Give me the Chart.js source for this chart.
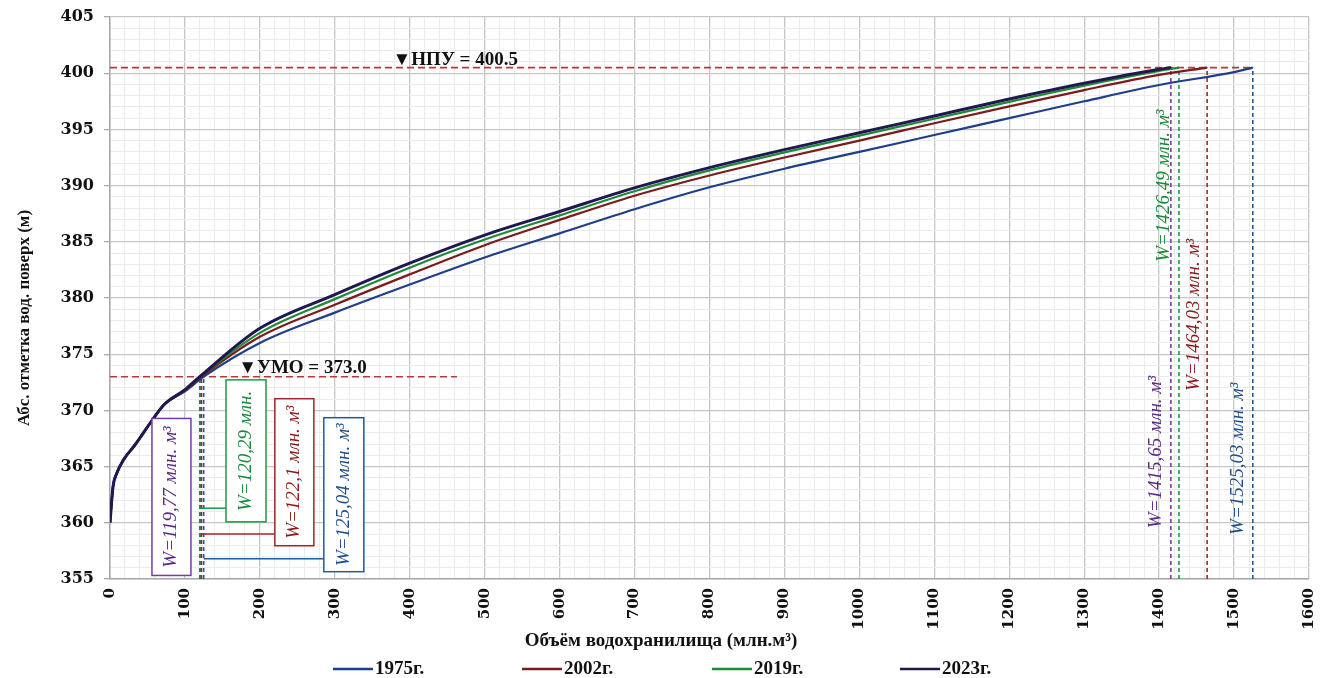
<!DOCTYPE html>
<html>
<head>
<meta charset="utf-8">
<script src="https://cdn.jsdelivr.net/npm/chart.js@4/dist/chart.umd.min.js"></script>
<style>
  html, body { margin: 0; padding: 0; background: #fff; }
  #wrap { width: 1322px; height: 678px; }
</style>
</head>
<body>
<div id="wrap"><canvas id="chart"></canvas></div>
<script>
// Кривые объёмов водохранилища (объём, млн.м3 -> отметка, м)
const years = ['1975г.', '2002г.', '2019г.', '2023г.'];

const vol1975 = [0, 4, 9, 18, 33, 55, 72, 100, 125.04, 200, 300, 400, 500, 600, 700, 800, 900, 1000, 1100, 1200, 1300, 1400, 1500, 1525.03];
const lvl1975 = [360, 363.2, 364.4, 365.6, 366.9, 369.0, 370.5, 371.7, 373.0, 376.0, 378.7, 381.2, 383.6, 385.75, 387.9, 389.85, 391.5, 393.0, 394.5, 396.0, 397.5, 398.95, 400.1, 400.5];

const vol2002 = [0, 4, 9, 18, 33, 55, 72, 100, 122.1, 200, 300, 400, 500, 600, 700, 800, 900, 1000, 1100, 1200, 1300, 1400, 1464.03];
const lvl2002 = [360, 363.2, 364.4, 365.6, 366.9, 369.0, 370.5, 371.75, 373.0, 376.55, 379.4, 382.1, 384.7, 386.95, 389.1, 390.9, 392.5, 394.0, 395.55, 397.05, 398.5, 399.85, 400.5];

const vol2019 = [0, 4, 9, 18, 33, 55, 72, 100, 120.29, 200, 300, 400, 500, 600, 700, 800, 900, 1000, 1100, 1200, 1300, 1400, 1426.49];
const lvl2019 = [360, 363.2, 364.4, 365.6, 366.9, 369.0, 370.5, 371.8, 373.0, 376.9, 379.9, 382.7, 385.2, 387.35, 389.5, 391.35, 392.95, 394.45, 395.95, 397.45, 398.9, 400.2, 400.5];

const vol2023 = [0, 4, 9, 18, 33, 55, 72, 100, 119.77, 200, 300, 400, 500, 600, 700, 800, 900, 1000, 1100, 1200, 1300, 1400, 1415.65];
const lvl2023 = [360, 363.2, 364.4, 365.6, 366.9, 369.0, 370.5, 371.85, 373.0, 377.3, 380.3, 383.1, 385.6, 387.7, 389.8, 391.6, 393.2, 394.7, 396.2, 397.7, 399.1, 400.35, 400.5];

const lineColors = ['#1f3f8a', '#7a1c1c', '#1d8a3a', '#20184e'];
const markColors = ['#1f5c9a', '#a42424', '#1a9a48', '#7a3aa6'];

const NPU = 400.5;
const UMO = 373.0;
const volNPU = [1525.03, 1464.03, 1426.49, 1415.65];
const volUMO = [125.04, 122.1, 120.29, 119.77];

const xTicks = [0, 1600, 20];
const yTicks = [355, 405, 1];

function pts(xs, ys) {
  return xs.map((v, i) => ({x: v, y: ys[i]}));
}

const curves = [
  pts(vol1975, lvl1975),
  pts(vol2002, lvl2002),
  pts(vol2019, lvl2019),
  pts(vol2023, lvl2023)
];

const datasets = [];
curves.forEach((data, i) => {
  datasets.push({
    label: years[i],
    data: data,
    borderColor: lineColors[i],
    borderWidth: i === 3 ? 3 : 2.2,
    pointRadius: 0,
    cubicInterpolationMode: 'monotone',
    order: 3 - i
  });
});

// пунктиры НПУ и УМО
datasets.push({
  label: 'НПУ', data: [{x: 0, y: NPU}, {x: 1525.03, y: NPU}],
  borderColor: '#b43a3a', borderWidth: 1.6, borderDash: [7, 4], pointRadius: 0, order: 10
});
datasets.push({
  label: 'УМО', data: [{x: 0, y: UMO}, {x: 463, y: UMO}],
  borderColor: '#b43a3a', borderWidth: 1.6, borderDash: [7, 4], pointRadius: 0, order: 10
});
// вертикальные пунктиры
for (let i = 0; i < 4; i++) {
  datasets.push({
    label: 'npu' + i, data: [{x: volNPU[i], y: 355}, {x: volNPU[i], y: NPU}],
    borderColor: markColors[i], borderWidth: 1.6, borderDash: [4, 3], pointRadius: 0, order: 9
  });
  datasets.push({
    label: 'umo' + i, data: [{x: volUMO[i], y: 355}, {x: volUMO[i], y: UMO}],
    borderColor: markColors[i], borderWidth: 1.6, borderDash: [4, 3], pointRadius: 0, order: 9
  });
}

// подписи в рамках (слева) и без рамок (справа)
const boxNotes = [
  {text: 'W=119,77 млн. м³', i: 3, cx: 82, cy: 362.3, w: 39, h: 157, link: null},
  {text: 'W=120,29 млн.', i: 2, cx: 181.5, cy: 366.4, w: 40, h: 142, link: 361.3},
  {text: 'W=122,1 млн. м³', i: 1, cx: 246, cy: 364.5, w: 39, h: 147, link: 359.0},
  {text: 'W=125,04 млн. м³', i: 0, cx: 312, cy: 362.5, w: 40, h: 154, link: 356.8}
];
const sideNotes = [
  {text: 'W=1415,65 млн. м³', i: 3, cx: 1395.8, cy: 366.3},
  {text: 'W=1426,49 млн. м³', i: 2, cx: 1406.5, cy: 390.0},
  {text: 'W=1464,03 млн. м³', i: 1, cx: 1446.5, cy: 378.5},
  {text: 'W=1525,03 млн. м³', i: 0, cx: 1505, cy: 365.7}
];
const textColors = ['#1f4e8c', '#8b1a1a', '#1a8a3a', '#5b2a86'];

const noteFont = 'italic 19px "Liberation Serif", "DejaVu Serif", serif';
const boldSerif = '"Liberation Serif", "DejaVu Serif", serif';

function vText(ctx, text, cx, cy, color) {
  ctx.save();
  ctx.translate(cx, cy);
  ctx.rotate(-Math.PI / 2);
  ctx.fillStyle = color;
  ctx.textAlign = 'center';
  ctx.textBaseline = 'middle';
  ctx.fillText(text, 0, 0);
  ctx.restore();
}

const annotate = {
  id: 'annotate',
  afterDatasetsDraw(chart) {
    const {ctx, scales: {x, y}} = chart;
    ctx.save();

    ctx.fillStyle = '#111';
    ctx.font = 'bold 19px ' + boldSerif;
    ctx.textAlign = 'left';
    ctx.textBaseline = 'alphabetic';
    ctx.fillText('▼НПУ = 400.5', x.getPixelForValue(377), y.getPixelForValue(NPU) - 3);
    ctx.fillText('▼УМО = 373.0', x.getPixelForValue(171), y.getPixelForValue(UMO) - 4);

    ctx.font = noteFont;
    boxNotes.forEach(n => {
      const cx = x.getPixelForValue(n.cx), cy = y.getPixelForValue(n.cy);
      const c = markColors[n.i];
      ctx.fillStyle = '#fff';
      ctx.fillRect(cx - n.w / 2, cy - n.h / 2, n.w, n.h);
      ctx.strokeStyle = c;
      ctx.lineWidth = 1.5;
      ctx.strokeRect(cx - n.w / 2, cy - n.h / 2, n.w, n.h);
      if (n.link !== null) {
        const ly = y.getPixelForValue(n.link);
        ctx.beginPath();
        ctx.moveTo(x.getPixelForValue(volUMO[n.i]), ly);
        ctx.lineTo(cx - n.w / 2, ly);
        ctx.stroke();
      }
      vText(ctx, n.text, cx, cy, textColors[n.i]);
    });
    sideNotes.forEach(n => {
      vText(ctx, n.text, x.getPixelForValue(n.cx), y.getPixelForValue(n.cy), textColors[n.i]);
    });

    // подписи осей
    ctx.font = 'bold 17px ' + boldSerif;
    vText(ctx, 'Абс. отметка вод. поверх (м)', 25, 318, '#111');
    ctx.font = 'bold 19px ' + boldSerif;
    ctx.fillStyle = '#111';
    ctx.textAlign = 'center';
    ctx.textBaseline = 'middle';
    ctx.fillText('Объём водохранилища (млн.м³)', 661, 641);

    // легенда
    const legX = [333, 522, 712, 900];
    ctx.font = 'bold 19px ' + boldSerif;
    ctx.textAlign = 'left';
    years.forEach((t, i) => {
      ctx.strokeStyle = lineColors[i];
      ctx.lineWidth = 2.5;
      ctx.beginPath();
      ctx.moveTo(legX[i], 669);
      ctx.lineTo(legX[i] + 40, 669);
      ctx.stroke();
      ctx.fillStyle = '#111';
      ctx.fillText(t, legX[i] + 42, 669);
    });
    ctx.restore();
  }
};

const majorGrid = '#c6c6c6';
const minorGrid = '#ebebeb';

new Chart(document.getElementById('chart'), {
  type: 'line',
  data: {datasets: datasets},
  options: {
    responsive: true,
    maintainAspectRatio: false,
    animation: false,
    layout: {padding: {top: 17, right: 13, bottom: 0, left: 0}},
    plugins: {
      legend: {display: false},
      tooltip: {enabled: false}
    },
    scales: {
      x: {
        type: 'linear',
        min: xTicks[0],
        max: xTicks[1],
        afterFit: s => { s.height = 99; s.paddingRight = 0; s.paddingLeft = 0; },
        border: {color: '#a8a8a8', width: 1.5},
        grid: {
          color: c => (c.tick && c.tick.value % 100 === 0) ? majorGrid : minorGrid,
          lineWidth: c => (c.tick && c.tick.value % 100 === 0) ? 1.3 : 1,
          drawTicks: false
        },
        ticks: {
          stepSize: xTicks[2],
          autoSkip: false,
          minRotation: 90,
          maxRotation: 90,
          padding: 9,
          color: '#111',
          font: {family: '"DejaVu Serif"', weight: 'bold', size: 15},
          callback: v => v % 100 === 0 ? String(v) : ''
        }
      },
      y: {
        type: 'linear',
        min: yTicks[0],
        max: yTicks[1],
        afterFit: s => { s.width = 110; s.paddingTop = 0; s.paddingBottom = 0; },
        border: {color: '#a8a8a8', width: 1.5},
        grid: {
          color: c => (c.tick && c.tick.value % 5 === 0) ? majorGrid : minorGrid,
          lineWidth: c => (c.tick && c.tick.value % 5 === 0) ? 1.3 : 1,
          tickLength: 6,
          tickColor: c => (c.tick && c.tick.value % 5 === 0) ? '#a8a8a8' : 'rgba(0,0,0,0)'
        },
        ticks: {
          stepSize: yTicks[2],
          autoSkip: false,
          padding: 10,
          color: '#111',
          font: {family: '"DejaVu Serif"', weight: 'bold', size: 16},
          callback: v => v % 5 === 0 ? String(v) : ''
        }
      }
    }
  },
  plugins: [annotate]
});
</script>
</body>
</html>
